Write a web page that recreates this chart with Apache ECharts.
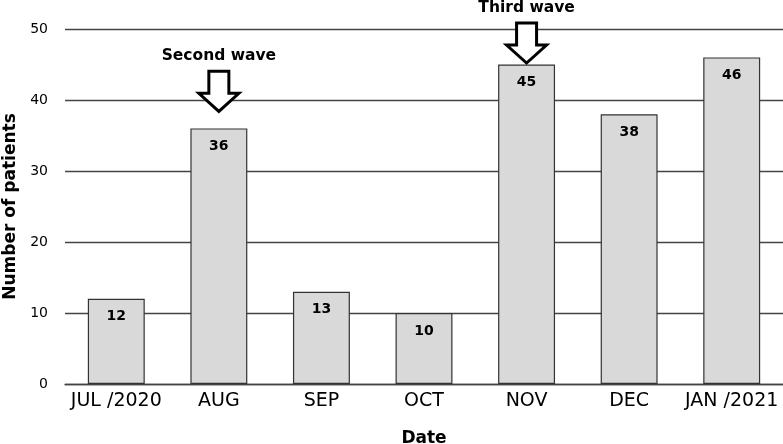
<!DOCTYPE html>
<html>
<head>
<meta charset="utf-8">
<script src="https://cdn.jsdelivr.net/npm/echarts@6/dist/echarts.min.js"></script>
<style>html,body{margin:0;padding:0;background:#fff;}#c{width:783px;height:444px;}</style>
</head>
<body>
<div id="c"></div>
<script>
var categories = ['JUL /2020', 'AUG', 'SEP', 'OCT', 'NOV', 'DEC', 'JAN /2021'];
var patients = [12, 36, 13, 10, 45, 38, 46];
var annCategories = ['AUG', 'NOV'];
var annTexts = ['Second wave', 'Third wave'];
var annTips = [38.4, 45.2];

var chart = echarts.init(document.getElementById('c'), null, {renderer: 'canvas'});
var font = 'DejaVu Sans, Verdana, sans-serif';
var arrowPath = 'path://M10,0 L30,0 L30,22 L40,22 L20,40 L0,22 L10,22 Z';
var marks = annCategories.map(function (c, i) {
  return { name: annTexts[i], coord: [c, annTips[i]] };
});
chart.setOption({
  animation: false,
  grid: { left: 65, right: 0, top: 29, bottom: 60, containLabel: false, outerBoundsMode: 'none' },
  xAxis: {
    type: 'category',
    data: categories,
    name: 'Date',
    nameLocation: 'middle',
    nameGap: 46,
    nameTextStyle: { fontFamily: font, fontWeight: 'bold', fontSize: 17, color: '#000' },
    axisTick: { show: false },
    axisLine: { show: true, lineStyle: { color: '#444', width: 1.3 } },
    axisLabel: { fontFamily: font, fontSize: 19, color: '#000', margin: 8, interval: 0 }
  },
  yAxis: {
    type: 'value',
    min: 0, max: 50, interval: 10,
    name: 'Number of patients',
    nameLocation: 'middle',
    nameGap: 43,
    nameTextStyle: { fontFamily: font, fontWeight: 'bold', fontSize: 17, color: '#000' },
    axisLine: { show: false },
    axisTick: { show: false },
    axisLabel: { fontFamily: font, fontSize: 14, color: '#000', margin: 17 },
    splitLine: { lineStyle: { color: '#444', width: 1.3 } }
  },
  series: [{
    type: 'bar',
    data: patients,
    barWidth: '55.5%',
    itemStyle: { color: '#d9d9d9', borderColor: '#333', borderWidth: 1.2 },
    label: {
      show: true, position: 'insideTop', distance: 11,
      fontFamily: font, fontWeight: 'bold', fontSize: 14, color: '#000'
    },
    markPoint: {
      symbol: arrowPath,
      symbolSize: [40, 40],
      symbolOffset: [0, -20],
      itemStyle: { color: '#fff', borderColor: '#000', borderWidth: 3 },
      label: {
        show: true, position: 'top', distance: 6, formatter: '{b}',
        fontFamily: font, fontWeight: 'bold', fontSize: 15.5, color: '#000'
      },
      data: marks
    }
  }]
});
</script>
</body>
</html>
